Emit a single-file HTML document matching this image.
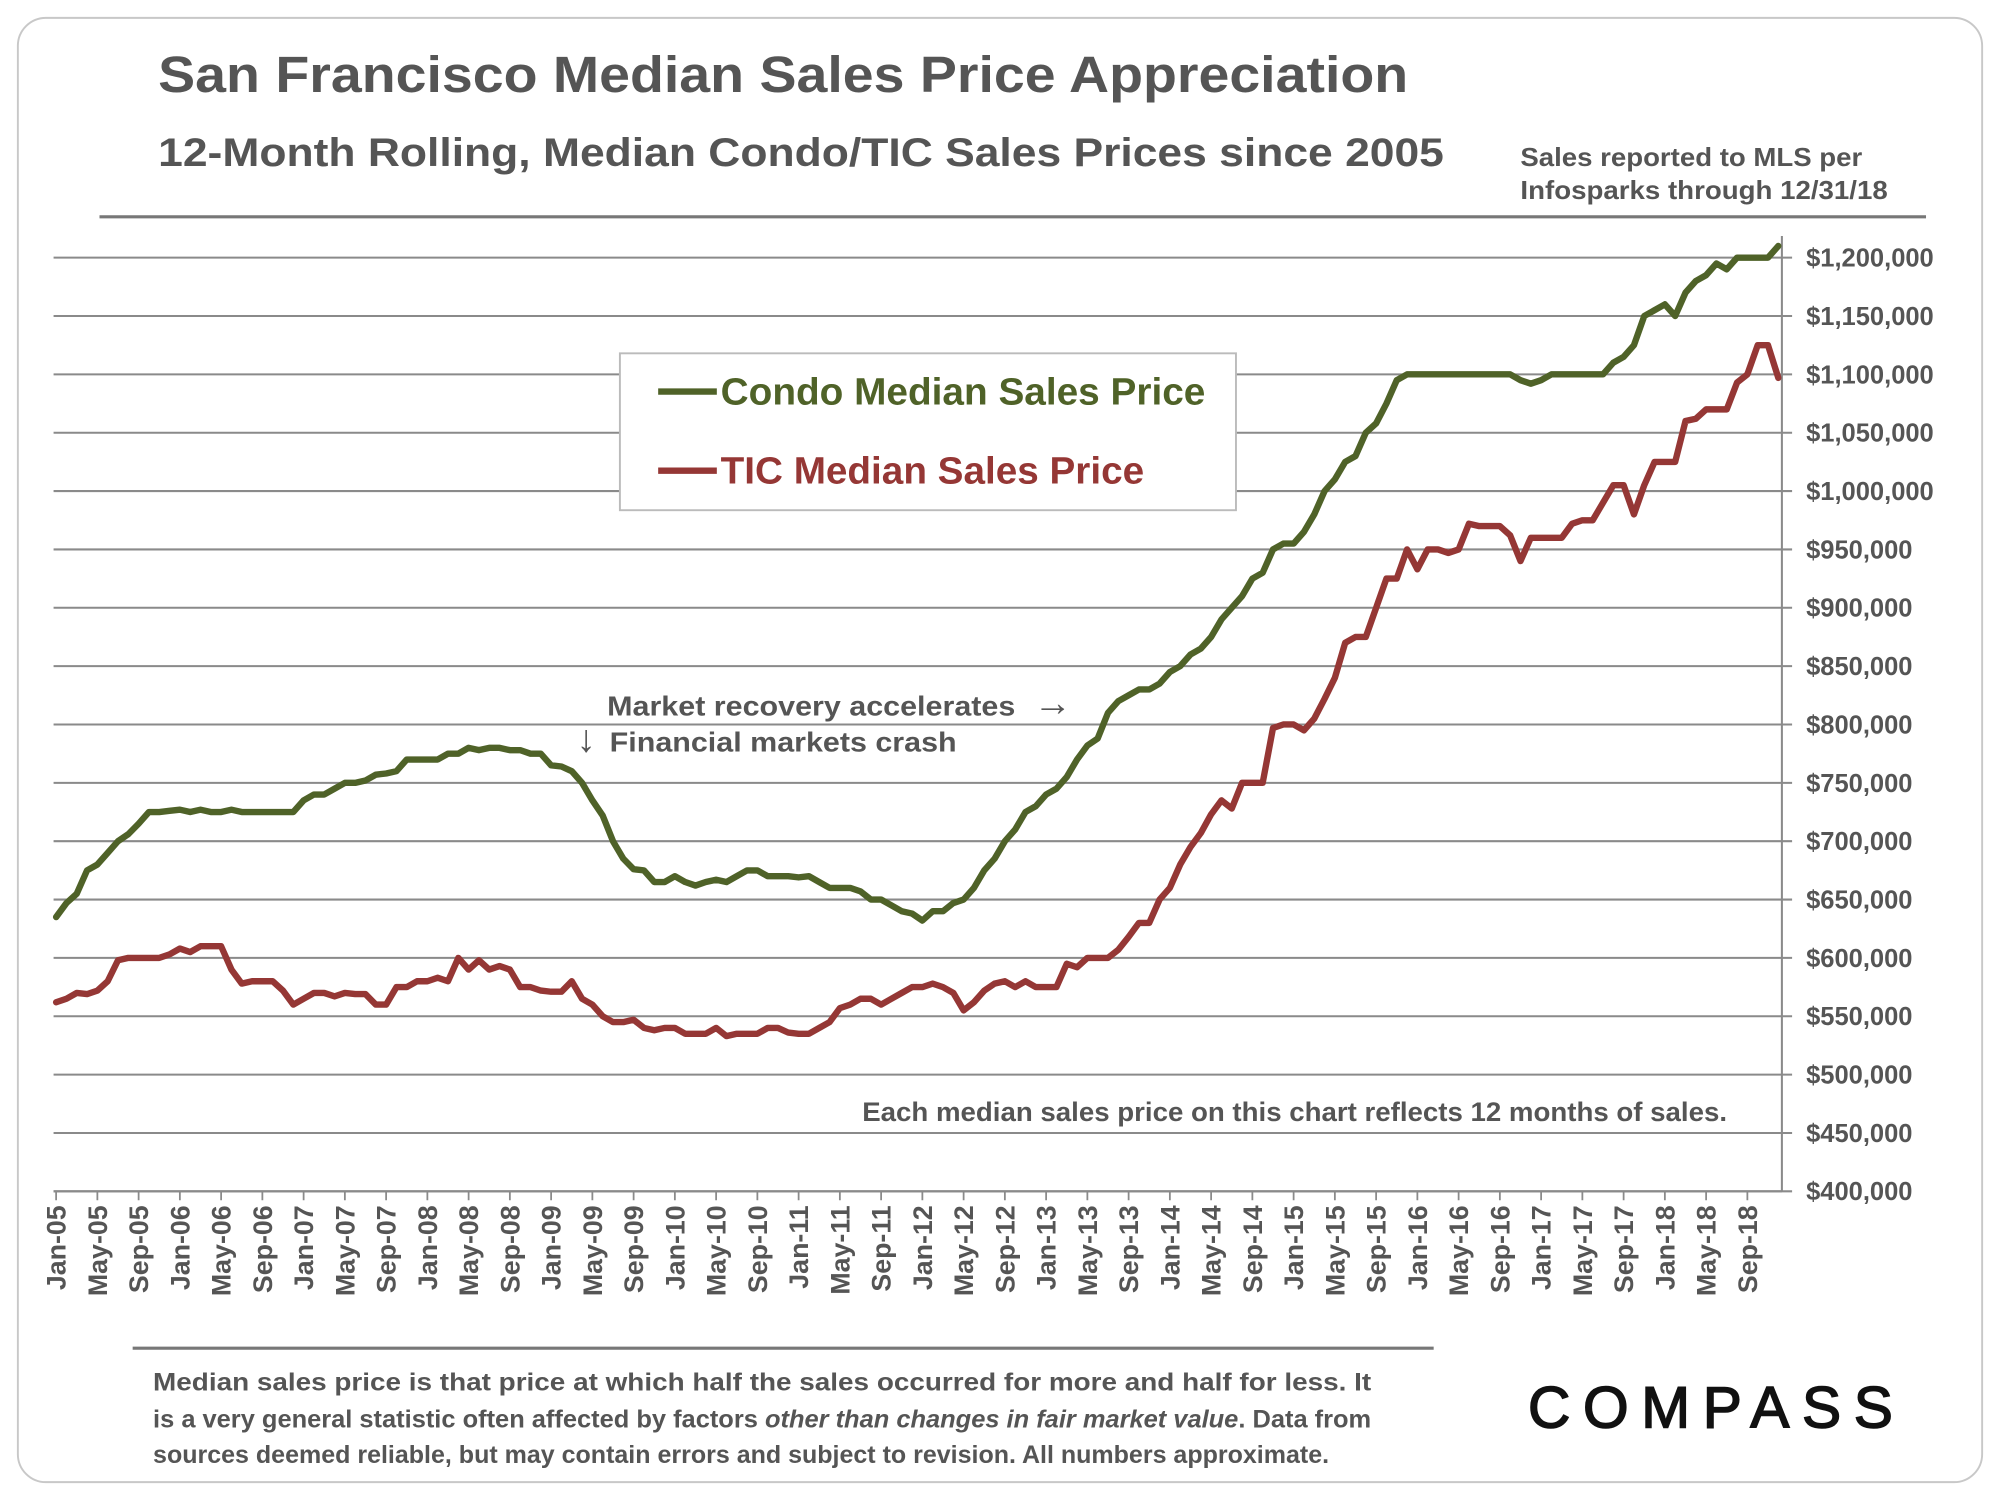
<!DOCTYPE html>
<html><head><meta charset="utf-8"><style>
html,body{margin:0;padding:0;background:#fff;}
svg{display:block;font-family:"Liberation Sans",Arial,sans-serif;}
</style></head><body>
<svg id="chart" width="2000" height="1500" viewBox="0 0 1568 1176" xmlns="http://www.w3.org/2000/svg">
<rect x="14" y="14" width="1540" height="1148" rx="22" fill="#fff" stroke="#c8c8c8" stroke-width="1.5"/>
<text x="124" y="72" font-size="40" font-weight="bold" fill="#555" textLength="980" lengthAdjust="spacingAndGlyphs">San Francisco Median Sales Price Appreciation</text>
<text x="124" y="130" font-size="31" font-weight="bold" fill="#555" textLength="1008" lengthAdjust="spacingAndGlyphs">12-Month Rolling, Median Condo/TIC Sales Prices since 2005</text>
<text font-size="20" font-weight="bold" fill="#555"><tspan x="1192" y="130" textLength="268" lengthAdjust="spacingAndGlyphs">Sales reported to MLS per</tspan><tspan x="1192" y="156" textLength="288" lengthAdjust="spacingAndGlyphs">Infosparks through 12/31/18</tspan></text>
<line x1="78" y1="170" x2="1510" y2="170" stroke="#777" stroke-width="2.5"/>
<g id="grid"></g>
<g id="yaxis"></g>
<g id="xaxis"></g>
<g id="series"></g>
<g>
<rect x="486" y="277" width="483" height="123" fill="#fff" stroke="#bbb" stroke-width="1.5"/>
<line x1="516" y1="307" x2="562" y2="307" stroke="#4f6228" stroke-width="5"/>
<text x="565" y="317" font-size="30" font-weight="bold" fill="#4f6228" textLength="380" lengthAdjust="spacingAndGlyphs">Condo Median Sales Price</text>
<line x1="516" y1="369" x2="562" y2="369" stroke="#953735" stroke-width="5"/>
<text x="565" y="379" font-size="30" font-weight="bold" fill="#953735" textLength="332" lengthAdjust="spacingAndGlyphs">TIC Median Sales Price</text>
</g>
<text x="476" y="561" font-size="22" font-weight="bold" fill="#555"><tspan textLength="320" lengthAdjust="spacingAndGlyphs">Market recovery accelerates</tspan><tspan x="802" font-size="30"> →</tspan></text>
<text x="452" y="589" font-size="22" font-weight="bold" fill="#555"><tspan font-size="30">↓</tspan><tspan x="478" textLength="272" lengthAdjust="spacingAndGlyphs">Financial markets crash</tspan></text>
<text x="676" y="879" font-size="21" font-weight="bold" fill="#555" textLength="678" lengthAdjust="spacingAndGlyphs">Each median sales price on this chart reflects 12 months of sales.</text>
<line x1="104" y1="1057" x2="1124" y2="1057" stroke="#777" stroke-width="2.5"/>
<text font-size="19.5" font-weight="bold" fill="#555">
<tspan x="120" y="1090" textLength="955" lengthAdjust="spacingAndGlyphs">Median sales price is that price at which half the sales occurred for more and half for less. It</tspan>
<tspan x="120" y="1119" textLength="955" lengthAdjust="spacingAndGlyphs">is a very general statistic often affected by factors <tspan font-style="italic">other than changes in fair market value</tspan>. Data from</tspan>
<tspan x="120" y="1147" textLength="922" lengthAdjust="spacingAndGlyphs">sources deemed reliable, but may contain errors and subject to revision. All numbers approximate.</tspan>
</text>
<text x="1198" y="1119" font-size="46" fill="#111" stroke="#111" stroke-width="1.2" textLength="286" lengthAdjust="spacing">COMPASS</text>
</svg>
<script>
const monthLabels = ["Jan-05","May-05","Sep-05","Jan-06","May-06","Sep-06","Jan-07","May-07","Sep-07","Jan-08","May-08","Sep-08","Jan-09","May-09","Sep-09","Jan-10","May-10","Sep-10","Jan-11","May-11","Sep-11","Jan-12","May-12","Sep-12","Jan-13","May-13","Sep-13","Jan-14","May-14","Sep-14","Jan-15","May-15","Sep-15","Jan-16","May-16","Sep-16","Jan-17","May-17","Sep-17","Jan-18","May-18","Sep-18"];
const yTicks = [400000,450000,500000,550000,600000,650000,700000,750000,800000,850000,900000,950000,1000000,1050000,1100000,1150000,1200000];
const condoValues = [
635,647,655,675,680,690,700,706,715,725,725,726,
727,725,727,725,725,727,725,725,725,725,725,725,
735,740,740,745,750,750,752,757,758,760,770,770,
770,770,775,775,780,778,780,780,778,778,775,775,
765,764,760,750,735,722,700,685,676,675,665,665,
670,665,662,665,667,665,670,675,675,670,670,670,
669,670,665,660,660,660,657,650,650,645,640,638,
632,640,640,647,650,660,675,685,700,710,725,730,
740,745,755,770,782,788,810,820,825,830,830,835,
845,850,860,865,875,890,900,910,925,930,950,955,
955,965,980,1000,1010,1025,1030,1050,1058,1075,1095,1100,
1100,1100,1100,1100,1100,1100,1100,1100,1100,1100,1095,1092,
1095,1100,1100,1100,1100,1100,1100,1110,1115,1125,1150,1155,
1160,1150,1170,1180,1185,1195,1190,1200,1200,1200,1200,1210];
const ticValues = [
562,565,570,569,572,580,598,600,600,600,600,603,
608,605,610,610,610,590,578,580,580,580,572,560,
565,570,570,567,570,569,569,560,560,575,575,580,
580,583,580,600,590,598,590,593,590,575,575,572,
571,571,580,565,560,550,545,545,547,540,538,540,
540,535,535,535,540,533,535,535,535,540,540,536,
535,535,540,545,557,560,565,565,560,565,570,575,
575,578,575,570,555,562,572,578,580,575,580,575,
575,575,595,592,600,600,600,607,618,630,630,650,
660,680,695,707,723,735,728,750,750,750,797,800,
800,795,805,822,840,870,875,875,900,925,925,950,
933,950,950,947,950,972,970,970,970,962,940,960,
960,960,960,972,975,975,990,1005,1005,980,1005,1025,
1025,1025,1060,1062,1070,1070,1070,1093,1100,1125,1125,1097];

const NS = "http://www.w3.org/2000/svg";
const X0 = 44, DX = 8.085, Y0 = 934, YTOP = 202, VMIN = 400000, VMAX = 1200000, AXR = 1397;
function xScale(i){ return X0 + i * DX; }
function yScale(v){ return Y0 - (v - VMIN) / (VMAX - VMIN) * (Y0 - YTOP); }
function mk(tag, attrs, parent){ const e = document.createElementNS(NS, tag); for (const k in attrs) e.setAttribute(k, attrs[k]); parent.appendChild(e); return e; }

const grid = document.getElementById('grid'), yaxis = document.getElementById('yaxis'), xaxis = document.getElementById('xaxis'), series = document.getElementById('series');
yTicks.forEach(v => {
  const y = yScale(v);
  const gl = mk('line', {x1: 42, x2: AXR + 8, y1: y, y2: y, stroke: '#8a8a8a', 'stroke-width': 1.6}, grid);
  
  
  const t = mk('text', {x: 1416, y: y + 7, 'font-size': 20, 'font-weight': 'bold', fill: '#555'}, yaxis);
  t.textContent = '$' + v.toLocaleString('en-US');
  
  
});
const ax = mk('line', {x1: AXR, x2: AXR, y1: 185, y2: Y0, stroke: '#8a8a8a', 'stroke-width': 1.6}, yaxis);


const bx = mk('line', {x1: 42, x2: AXR, y1: Y0, y2: Y0, stroke: '#8a8a8a', 'stroke-width': 1.6}, xaxis);


monthLabels.forEach((lab, k) => {
  const x = xScale(k * 4);
  const tk = mk('line', {x1: x, x2: x, y1: Y0, y2: Y0 + 7, stroke: '#8a8a8a', 'stroke-width': 1.4}, xaxis);
  
  
  const t = mk('text', {x: 0, y: 0, 'font-size': 21, 'font-weight': 'bold', fill: '#555', 'text-anchor': 'end', transform: 'translate(' + (x + 7.5) + ',' + (Y0 + 11) + ') rotate(-90)'}, xaxis);
  t.textContent = lab;
  
  
});
function drawLine(vals, color, name){
  const d = vals.map((v, i) => (i ? 'L' : 'M') + xScale(i).toFixed(2) + ',' + yScale(v * 1000).toFixed(2)).join('');
  const p = mk('path', {d: d, fill: 'none', stroke: color, 'stroke-width': 5, 'stroke-linejoin': 'round', 'stroke-linecap': 'round'}, series);
  
  
}
drawLine(ticValues, '#953735', 'tic-line');
drawLine(condoValues, '#4f6228', 'condo-line');
</script>
</body></html>
